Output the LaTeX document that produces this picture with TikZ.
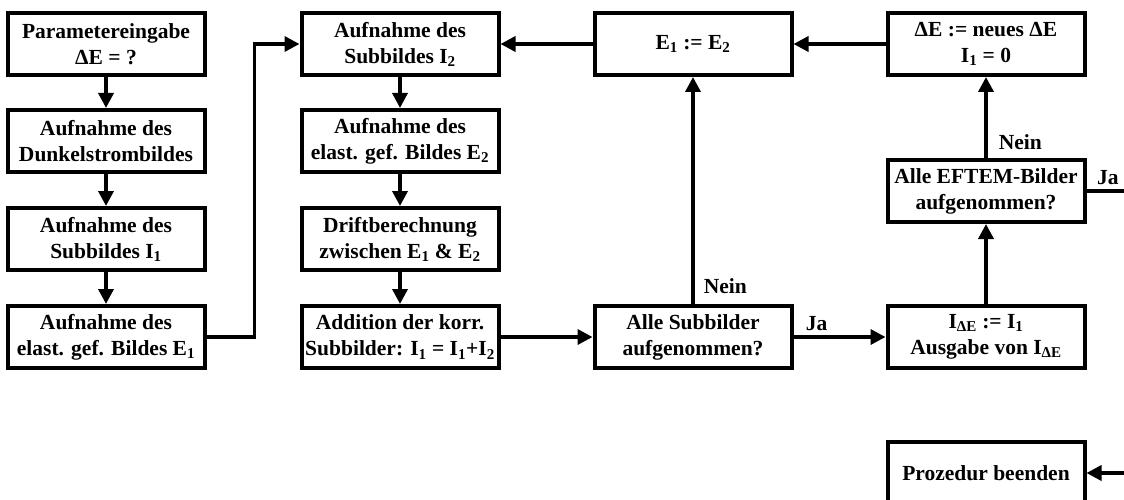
\documentclass[tikz,border=0pt]{standalone}
\usepackage{fontspec}
\setmainfont{Liberation Serif}
\usetikzlibrary{positioning,arrows.meta}

\begin{document}
\begin{tikzpicture}[x=1pt, y=-1pt, >={Triangle[length=15pt,width=15pt]}]
                \tikzset{box/.style={draw, line width=4pt, minimum width=197pt, minimum height=62pt,
                                     inner sep=0pt, align=center, font=\fontsize{21.5}{26}\selectfont\bfseries},
                         lbl/.style={inner sep=1pt, font=\fontsize{21.5}{26}\selectfont\bfseries}}
                \useasboundingbox (0,0) rectangle (1124,500);
                \clip (0,0) rectangle (1124,500);
                % first column
                \node[box] (P) at (106, 44) {Parametereingabe\\ΔE = ?};
                \node[box] (D) at (106, 141) {Aufnahme des\\Dunkelstrombildes};
                \node[box] (S1) at (106, 239) {Aufnahme des\\Subbildes I\textsubscript{1}};
                \node[box] (E1) at (106, 337) {Aufnahme des\\elast. gef. Bildes E\textsubscript{1}};
                % second column
                \node[box] (S2) at (400, 44) {Aufnahme des\\Subbildes I\textsubscript{2}};
                \node[box] (E2) at (400, 141) {Aufnahme des\\elast. gef. Bildes E\textsubscript{2}};
                \node[box] (drift) at (400, 239) {Driftberechnung\\zwischen E\textsubscript{1} \& E\textsubscript{2}};
                \node[box] (add) at (400, 337) {Addition der korr.\\Subbilder: I\textsubscript{1} = I\textsubscript{1}+I\textsubscript{2}};
                % third and fourth column
                \node[box] (EE) at (693, 44) {E\textsubscript{1} := E\textsubscript{2}};
                \node[box] (allsub) at (693, 337) {Alle Subbilder\\aufgenommen?};
                \node[box] (dE) at (986, 44) {ΔE := neues ΔE\\I\textsubscript{1} = 0};
                \node[box] (eftem) at (986, 191) {Alle EFTEM-Bilder\\aufgenommen?};
                \node[box] (out) at (986, 337) {I\textsubscript{ΔE} := I\textsubscript{1}\\Ausgabe von I\textsubscript{ΔE}};
                \node[box] (end) at (986, 473) {Prozedur beenden};
                \coordinate (exitJa) at (1135, 191);
                \coordinate (enterEnd) at (1135, 473);
                \path[->, line width=3.5pt]
                    (P) edge (D)
                    (D) edge (S1)
                    (S1) edge (E1)
                    (S2) edge (E2)
                    (E2) edge (drift)
                    (drift) edge (add)
                    (add) edge (allsub)
                    (allsub) edge node[lbl, pos=0.25, above=4pt] {Ja} (out)
                    (allsub) edge node[lbl, pos=0.08, right=8pt] {Nein} (EE)
                    (out) edge (eftem)
                    (eftem) edge node[lbl, pos=0.2, right=10pt] {Nein} (dE)
                    (dE) edge (EE)
                    (EE) edge (S2)
                    (enterEnd) edge (end);
                \draw[->, line width=3.5pt] (E1.east) -- ++(48,0) |- (S2.west);
                \draw[line width=3.5pt] (eftem.east) -- node[lbl, above=4pt, xshift=-3pt] {Ja} (exitJa);
            \end{tikzpicture}
\end{document}
